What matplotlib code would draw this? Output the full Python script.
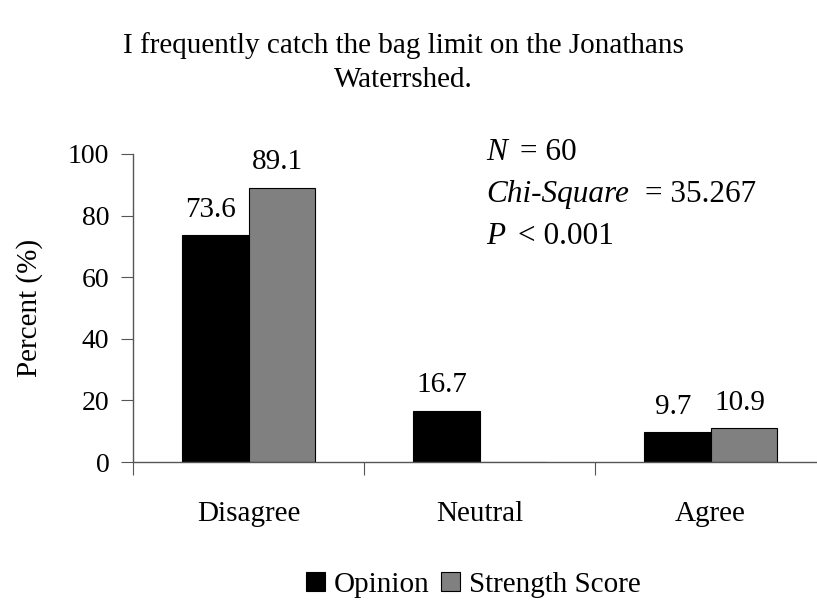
import matplotlib
matplotlib.use("Agg")
import matplotlib.pyplot as plt
import numpy as np

categories = ["Disagree", "Neutral", "Agree"]
opinion = [73.6, 16.7, 9.7]
strength = [89.1, 0.0, 10.9]
strength_labels = ["89.1", "", "10.9"]
opinion_labels = ["73.6", "16.7", "9.7"]
yticks = [0, 20, 40, 60, 80, 100]

plt.rcParams['font.family'] = ['Liberation Serif', 'DejaVu Serif']

fig = plt.figure(figsize=(8.17, 6.09), dpi=100)
ax = fig.add_axes([133/817, 147/609, (826-133)/817, (462-154)/609])

x = np.arange(len(categories)) + 0.5
w = 0.29
b1 = ax.bar(x - w/2, opinion, w, color='black', edgecolor='black', linewidth=0.8, label='Opinion')
b2 = ax.bar(x + w/2, strength, w, color='#808080', edgecolor='black', linewidth=0.8, label='Strength Score')

for r, t in zip(b1, opinion_labels):
    ax.annotate(t, (r.get_x() + r.get_width()/2, r.get_height()), xytext=(-3, 9),
                textcoords='offset points', ha='center', va='bottom', fontsize=21)
for r, t in zip(b2, strength_labels):
    if t:
        ax.annotate(t, (r.get_x() + r.get_width()/2, r.get_height()), xytext=(-3, 9),
                    textcoords='offset points', ha='center', va='bottom', fontsize=21)

ax.set_xlim(0, 3)
ax.set_ylim(0, 100)
ax.set_yticks(yticks)
ax.set_yticklabels([str(v) for v in yticks], fontsize=20)
ax.set_xticks([0, 1, 2, 3])
ax.set_xticklabels([])
ax.set_xticks(x, minor=True)
ax.set_xticklabels(categories, minor=True, fontsize=21)
ax.tick_params(axis='x', which='minor', length=0, pad=28)
ax.tick_params(axis='x', which='major', length=9, direction='out', color='#555555')
ax.tick_params(axis='y', length=9, direction='out', color='#555555', pad=8)

for s in ['top', 'right']:
    ax.spines[s].set_visible(False)
for s in ['left', 'bottom']:
    ax.spines[s].set_color('#555555')
    ax.spines[s].set_linewidth(1.0)

ax.set_ylabel('Percent (%)', fontsize=21, labelpad=18)

fig.text(0.494, 1 - 63/609, 'I frequently catch the bag limit on the Jonathans\nWaterrshed.',
         ha='center', va='center', fontsize=21, linespacing=1.4)

fs = 22.5
fig.text(486/817, 1 - 152/609, 'N', fontsize=fs, va='center', ha='left', style='italic')
fig.text(520/817, 1 - 152/609, '= 60', fontsize=fs, va='center', ha='left')
fig.text(486/817, 1 - 194/609, 'Chi-Square', fontsize=fs, va='center', ha='left', style='italic')
fig.text(645/817, 1 - 194/609, '= 35.267', fontsize=fs, va='center', ha='left')
fig.text(486/817, 1 - 236/609, 'P', fontsize=fs, va='center', ha='left', style='italic')
fig.text(518/817, 1 - 236/609, '< 0.001', fontsize=fs, va='center', ha='left')

leg = fig.legend(handles=[b1, b2], labels=['Opinion', 'Strength Score'], loc='center left',
                 bbox_to_anchor=(306/817, 1 - 585/609), ncol=2, frameon=False, fontsize=21,
                 handlelength=0.65, handleheight=0.65, handletextpad=0.3, columnspacing=0.4,
                 borderaxespad=0, borderpad=0)

fig.savefig('out.png', dpi=100)
